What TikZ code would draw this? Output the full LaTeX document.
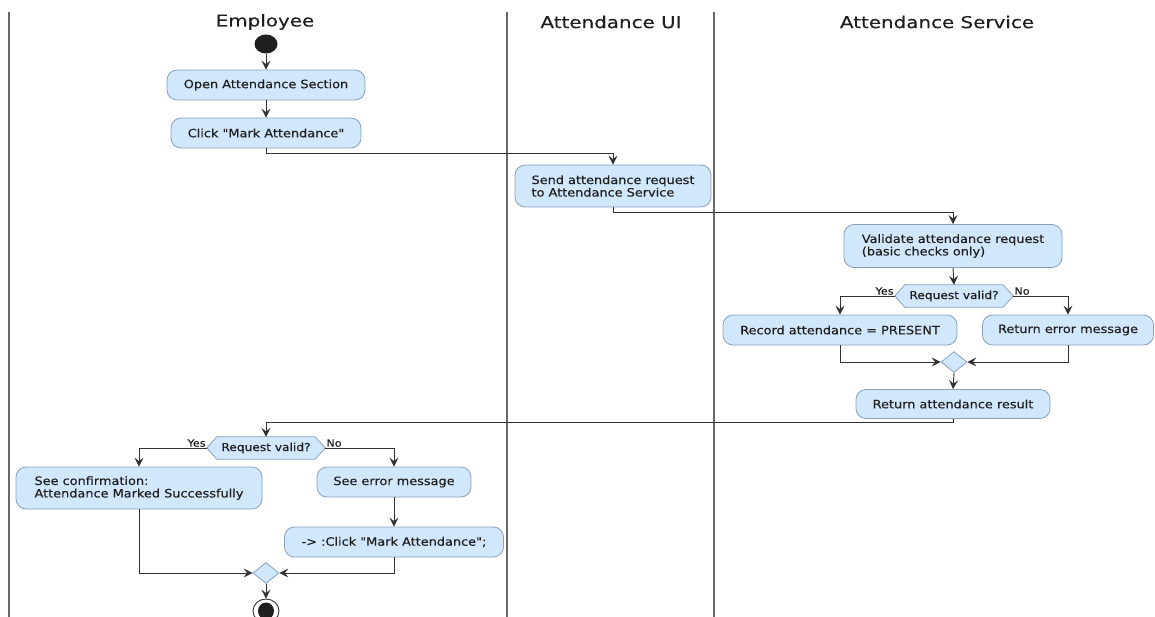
\documentclass[tikz,border=0pt]{standalone}
\usepackage{fontspec}
\setmainfont{DejaVu Sans}[FakeStretch=1.12, FakeBold=0.25, Ligatures=TeXOff]
\newfontfamily\headfont{DejaVu Sans}[FakeStretch=1.22, FakeBold=0.2, Ligatures=TeXOff]
\usetikzlibrary{shapes.geometric,arrows.meta,backgrounds}
\definecolor{boxfill}{RGB}{209,231,252}
\definecolor{boxline}{RGB}{135,160,190}
\definecolor{arrowc}{RGB}{50,50,50}
\definecolor{txt}{RGB}{30,30,30}
\definecolor{lanec}{RGB}{105,105,105}
\tikzset{
  actbox/.style={draw=boxline, fill=boxfill, line width=0.8pt, rounded corners=10pt,
    inner sep=0pt, text=txt, font=\fontsize{11.5}{12.5}\selectfont, align=left},
  lanehead/.style={text=txt, font=\headfont\fontsize{16.3}{18}\selectfont, inner sep=0pt},
  dectext/.style={inner sep=0pt, text=txt, font=\fontsize{10.9}{12}\selectfont,
    minimum width=118pt, minimum height=22pt},
  decshape/.style={draw=boxline, fill=boxfill, line width=0.8pt},
  merge/.style={diamond, draw=boxline, fill=boxfill, line width=0.8pt, inner sep=0pt,
    minimum width=26pt, minimum height=21pt},
  flow/.style={draw=arrowc, line width=0.9pt, -{Stealth[length=9pt,width=9pt,inset=3.5pt]}},
  branchlbl/.style={text=txt, font=\fontsize{10}{11}\selectfont, inner sep=1pt},
  laneline/.style={draw=lanec, line width=1.8pt}
}
\begin{document}
\begin{tikzpicture}[x=1pt,y=-1pt]
\useasboundingbox (0,0) rectangle (1155,617);
% swimlanes
\coordinate (l1t) at (9,12); \coordinate (l1b) at (9,617);
\coordinate (l2t) at (507,12); \coordinate (l2b) at (507,617);
\coordinate (l3t) at (714,12); \coordinate (l3b) at (714,617);
\draw[laneline] (l1t) -- (l1b);
\draw[laneline] (l2t) -- (l2b);
\draw[laneline] (l3t) -- (l3b);
\node[lanehead] (h1) at (265,22) {Employee};
\node[lanehead] (h2) at (611,22) {Attendance UI};
\node[lanehead] (h3) at (937,22) {Attendance Service};

% start
\node[ellipse, fill=black!88, minimum width=23pt, minimum height=19pt, inner sep=0pt] (start) at (266,44) {};

\node[actbox, minimum width=198pt, minimum height=30pt] (open) at (266,85) {Open Attendance Section};
\node[actbox, minimum width=190pt, minimum height=30pt] (click) at (266,133) {Click "Mark Attendance"};
\node[actbox, minimum width=196pt, minimum height=42pt] (send) at (613,186) {Send attendance request\\to Attendance Service};
\node[actbox, minimum width=218pt, minimum height=43pt] (valid) at (953,246) {Validate attendance request\\(basic checks only)};

\node[dectext] (d1) at (954,296) {Request valid?};
\begin{scope}[on background layer]
\draw[decshape] (d1.west) -- ([xshift=10pt]d1.north west) -- ([xshift=-10pt]d1.north east) -- (d1.east) -- ([xshift=-10pt]d1.south east) -- ([xshift=10pt]d1.south west) -- cycle;
\end{scope}

\node[actbox, minimum width=234pt, minimum height=30pt] (record) at (840,330) {Record attendance = PRESENT};
\node[actbox, minimum width=171pt, minimum height=30pt] (reterr) at (1068,330) {Return error message};
\node[merge] (m1) at (954,362) {};
\node[actbox, minimum width=194pt, minimum height=29pt] (retres) at (953,404) {Return attendance result};

\node[dectext] (d2) at (266,448) {Request valid?};
\begin{scope}[on background layer]
\draw[decshape] (d2.west) -- ([xshift=10pt]d2.north west) -- ([xshift=-10pt]d2.north east) -- (d2.east) -- ([xshift=-10pt]d2.south east) -- ([xshift=10pt]d2.south west) -- cycle;
\end{scope}

\node[actbox, minimum width=246pt, minimum height=42pt] (seeconf) at (139,488) {See confirmation:\\Attendance Marked Successfully};
\node[actbox, minimum width=154pt, minimum height=30pt] (seeerr) at (394,482) {See error message};
\node[actbox, minimum width=219pt, minimum height=30pt] (again) at (394,542) {-> :Click "Mark Attendance";};
\node[merge] (m2) at (266,573) {};

% end
\node[ellipse, draw=arrowc, line width=0.9pt, fill=white, minimum width=26pt, minimum height=24pt, inner sep=0pt] (end) at (266,611) {};
\node[ellipse, fill=black!88, minimum width=16pt, minimum height=17pt, inner sep=0pt] (endin) at (266,611) {};

% connectors
\draw[flow] (start) -- (open);
\draw[flow] (open) -- (click);
\draw[flow] (click.south) -- ++(0,5) -| (send.north);
\draw[flow] (send.south) -- ++(0,5) -| (valid.north);
\draw[flow] (valid.south) -- (d1.north);
\draw[flow] (d1.west) -| (record.north);
\draw[flow] (d1.east) -| (reterr.north);
\node[branchlbl, anchor=south east] (y1) at (d1.west) {Yes};
\node[branchlbl, anchor=south west] (n1) at (d1.east) {No};
\draw[flow] (record.south) |- (m1.west);
\draw[flow] (reterr.south) |- (m1.east);
\draw[flow] (m1.south) -- (retres.north);
\draw[flow] (retres.south) -- ++(0,4) -| (d2.north);
\draw[flow] (d2.west) -| (seeconf.north);
\draw[flow] (d2.east) -| (seeerr.north);
\node[branchlbl, anchor=south east] (y2) at (d2.west) {Yes};
\node[branchlbl, anchor=south west] (n2) at (d2.east) {No};
\draw[flow] (seeerr.south) -- (again.north);
\draw[flow] (seeconf.south) |- (m2.west);
\draw[flow] (again.south) |- (m2.east);
\draw[flow] (m2.south) -- (end.north);
\end{tikzpicture}
\end{document}
